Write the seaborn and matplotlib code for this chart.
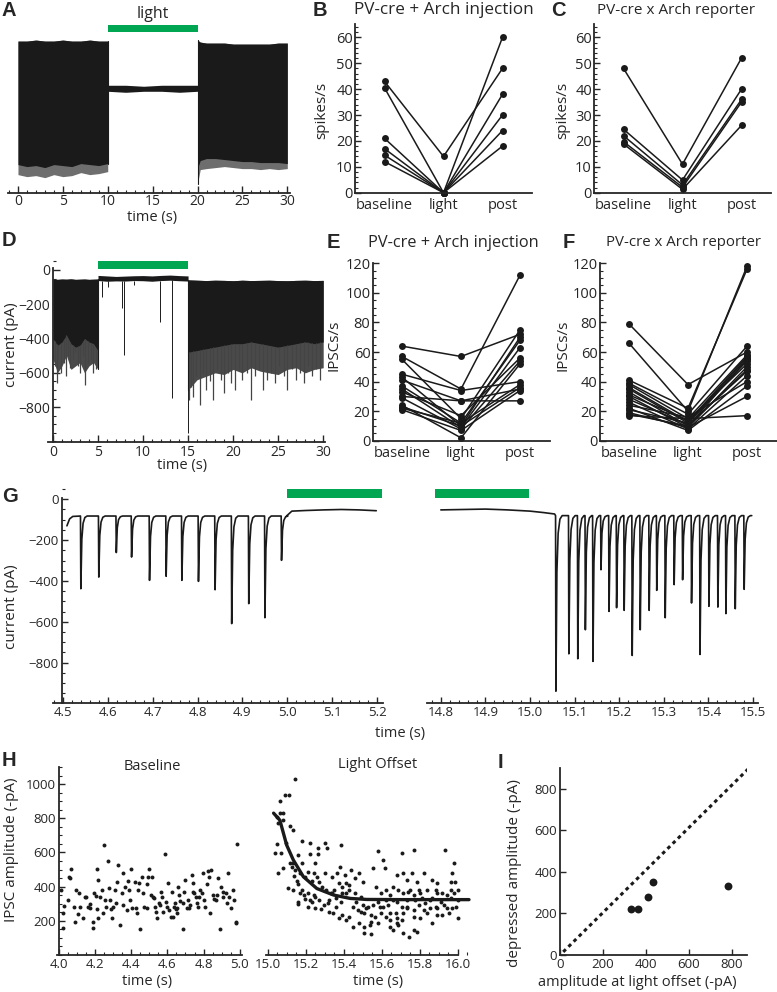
import numpy as np
import pandas as pd
import matplotlib
matplotlib.use('Agg')
import matplotlib.pyplot as plt
import seaborn as sns
from matplotlib.ticker import MultipleLocator

sns.set_theme(style='ticks')
plt.rcParams['font.family'] = ['Open Sans', 'DejaVu Sans']
plt.rcParams['xtick.direction'] = 'in'
plt.rcParams['ytick.direction'] = 'in'
plt.rcParams['axes.linewidth'] = 1.3
plt.rcParams['xtick.major.width'] = 1.0
plt.rcParams['ytick.major.width'] = 1.0
plt.rcParams['xtick.minor.width'] = 0.8
plt.rcParams['ytick.minor.width'] = 0.8

GREEN = '#00a651'

# ---------------- data ----------------
# A: firing trace envelope (arbitrary units, no y axis)
a_pre_t = [0, 1, 2, 3, 4, 5, 6, 7, 8, 9, 10]
a_pre_top = [47, 47, 48, 47, 47, 48, 47, 47, 48, 47, 47]
a_pre_core = [-76, -78, -77, -79, -76, -77, -78, -75, -76, -77, -75]
a_pre_tip = [-86, -88, -87, -89, -86, -88, -87, -84, -86, -85, -83]
a_light_t = [10, 12, 14, 16, 18, 20]
a_light_top = [3, 3, 2, 3, 3, 3]
a_light_bot = [-3, -4, -3, -3, -4, -3]
a_post_t = [20, 20.3, 21, 22, 23, 24, 25, 26, 27, 28, 29, 30]
a_post_top = [48, 46, 45, 45, 45, 44, 44, 44, 44, 44, 45, 45]
a_post_core = [-80, -72, -70, -70, -71, -72, -73, -73, -74, -74, -74, -75]
a_post_tip = [-95, -81, -80, -79, -78, -79, -80, -80, -81, -80, -81, -80]

# B, C: spikes/s
b_base = [43, 40.5, 21, 17, 14.5, 12]
b_light = [14, 0, 0, 0, 0, 0]
b_post = [48, 60, 38, 30, 24, 18]
c_base = [48, 24.5, 22, 19.7, 18.8]
c_light = [11, 4.9, 3, 2.1, 1.3]
c_post = [52, 40, 36, 35, 26]

# D: IPSC trace envelope (pA)
d_pre_t = [0, 0.5, 1, 1.5, 2, 2.5, 3, 3.5, 4, 4.5, 5]
d_pre_top = [-52, -55, -53, -54, -52, -55, -54, -53, -55, -54, -53]
d_pre_core = [-400, -440, -420, -380, -430, -450, -440, -400, -420, -430, -470]
d_pre_tip = [-520, -600, -560, -500, -580, -560, -540, -600, -560, -540, -580]
d_pre_spk_t = [0.2, 0.4, 0.6, 0.9, 1.2, 1.5, 1.7, 1.9, 2.2, 2.5, 2.8, 3.0, 3.3, 3.6, 3.9, 4.2, 4.5, 4.8]
d_pre_spk_a = [-560, -660, -520, -600, -540, -620, -500, -570, -520, -480, -560, -600, -500, -670, -540, -520, -600, -580]
d_light_t = [5, 6, 7, 8, 9, 10, 11, 12, 13, 14, 15]
d_light_top = [-32, -35, -38, -36, -34, -33, -35, -32, -30, -33, -35]
d_light_bot = [-62, -66, -64, -65, -62, -63, -66, -62, -60, -63, -65]
d_light_spk_t = [5.4, 6.1, 7.7, 7.9, 9.0, 11.9, 13.2, 14.95]
d_light_spk_a = [-160, -100, -224, -497, -90, -303, -745, -950]
d_post_t = [15, 16, 17, 18, 19, 20, 21, 22, 23, 24, 25, 26, 27, 28, 29, 30]
d_post_top = [-58, -60, -62, -60, -61, -63, -60, -62, -61, -60, -62, -63, -61, -60, -62, -61]
d_post_core = [-480, -470, -460, -450, -440, -430, -430, -420, -430, -440, -450, -440, -430, -420, -430, -420]
d_post_tip = [-700, -640, -620, -600, -610, -580, -600, -570, -590, -600, -610, -580, -570, -600, -580, -570]
d_post_spk_t = [15.1, 15.3, 15.6, 15.9, 16.3, 16.7, 17.0, 17.4, 17.8, 18.2, 18.6, 19.0, 19.4, 19.8, 20.2,
                20.6, 21.0, 21.5, 22.0, 22.4, 22.9, 23.3, 23.8, 24.2, 24.7, 25.1, 25.6, 26.0, 26.5,
                27.0, 27.4, 27.9, 28.3, 28.8, 29.2, 29.7]
d_post_spk_a = [-760, -680, -740, -620, -790, -600, -700, -650, -760, -580, -640, -720, -600, -660, -700,
                -580, -640, -600, -760, -620, -580, -700, -640, -600, -660, -560, -620, -700, -580,
                -640, -600, -660, -560, -620, -580, -640]

# E, F: IPSCs/s
e_base = [64, 57, 55, 45, 43, 41, 37, 35, 33, 30, 29, 24, 23, 22, 21]
e_light = [57, 35, 15, 34, 10, 27, 12, 9, 17, 27, 8, 2, 10, 12, 7]
e_post = [72, 112, 75, 40, 70, 35, 68, 63, 56, 27, 54, 52, 36, 38, 34]
f_base = [79, 66, 41, 39, 38, 36, 35, 33, 31, 30, 28, 26, 24, 22, 21, 19, 18, 17]
f_light = [38, 20, 22, 18, 15, 13, 12, 10, 14, 9, 11, 8, 16, 7, 12, 9, 10, 15]
f_post = [60, 118, 116, 64, 58, 57, 56, 55, 52, 50, 47, 44, 40, 37, 54, 30, 48, 17]

# G: individual IPSCs (time s, peak pA)
g_left_ev_t = [4.540, 4.580, 4.619, 4.653, 4.693, 4.730, 4.765, 4.802, 4.839, 4.876, 4.914, 4.950, 4.987]
g_left_ev_a = [-438, -381, -261, -283, -397, -377, -397, -402, -443, -609, -511, -580, -299]
g_left_base = -82
g_light1_t = [5.01, 5.04, 5.08, 5.12, 5.16, 5.198]
g_light1_v = [-58, -55, -52, -50, -52, -56]
g_light2_t = [14.80, 14.85, 14.90, 14.95, 15.00, 15.03, 15.055]
g_light2_v = [-52, -50, -48, -52, -58, -65, -72]
g_right_ev_t = [15.058, 15.087, 15.107, 15.124, 15.141, 15.159, 15.177, 15.194, 15.211, 15.229, 15.247, 15.267,
                15.284, 15.303, 15.323, 15.342, 15.362, 15.381, 15.401, 15.421, 15.439, 15.460, 15.480]
g_right_ev_a = [-940, -757, -781, -639, -794, -345, -549, -531, -544, -765, -639, -544,
                -446, -580, -418, -394, -508, -760, -524, -528, -560, -536, -441]
g_right_base = -80

# H: IPSC amplitudes
h_base_t = [4.015, 4.028, 4.022, 4.024, 4.055, 4.059, 4.064, 4.070, 4.083, 4.092, 4.097, 4.105, 4.112, 4.119,
            4.134, 4.147, 4.152, 4.160, 4.171, 4.174, 4.189, 4.191, 4.198, 4.211, 4.207, 4.217, 4.211, 4.220,
            4.226, 4.239, 4.248, 4.253, 4.257, 4.262, 4.275, 4.281, 4.284, 4.290, 4.294, 4.303, 4.312, 4.317,
            4.325, 4.330, 4.339, 4.349, 4.354, 4.358, 4.367, 4.376, 4.385, 4.389, 4.394, 4.400, 4.404, 4.422,
            4.428, 4.431, 4.440, 4.446, 4.450, 4.459, 4.464, 4.473, 4.486, 4.490, 4.495, 4.501, 4.508, 4.514,
            4.523, 4.527, 4.532, 4.538, 4.545, 4.556, 4.560, 4.565, 4.571, 4.578, 4.587, 4.591, 4.596, 4.606,
            4.611, 4.618, 4.624, 4.629, 4.637, 4.642, 4.646, 4.651, 4.655, 4.661, 4.664, 4.670, 4.684, 4.688,
            4.694, 4.697, 4.706, 4.716, 4.721, 4.725, 4.734, 4.739, 4.743, 4.749, 4.758, 4.765, 4.771, 4.776,
            4.780, 4.789, 4.798, 4.802, 4.807, 4.817, 4.826, 4.831, 4.835, 4.839, 4.853, 4.857, 4.868, 4.875,
            4.881, 4.890, 4.895, 4.905, 4.908, 4.923, 4.930, 4.936, 4.941, 4.950, 4.963, 4.969, 4.976, 4.978,
            4.985]
h_base_a = [380, 287, 248, 156, 322, 458, 449, 501, 283, 191, 380, 240, 361, 279,
            218, 341, 341, 283, 296, 273, 195, 156, 361, 269, 345, 439, 501, 218,
            337, 380, 244, 644, 322, 283, 552, 394, 322, 267, 215, 279, 380, 302,
            425, 527, 176, 361, 293, 478, 400, 263, 435, 380, 322, 501, 273, 429,
            273, 244, 380, 423, 150, 458, 361, 283, 273, 415, 458, 501, 351, 458,
            341, 332, 283, 254, 215, 302, 293, 371, 341, 254, 591, 312, 283, 419,
            263, 220, 371, 220, 283, 302, 267, 273, 244, 400, 351, 318, 150, 302,
            371, 439, 273, 322, 273, 293, 468, 371, 423, 361, 337, 302, 279, 341,
            380, 361, 478, 322, 279, 415, 493, 454, 244, 497, 351, 326, 322, 351,
            449, 150, 400, 367, 341, 361, 302, 482, 337, 273, 380, 322, 195, 185,
            647]
h_off_t = [15.143, 15.089, 15.111, 15.063, 15.063, 15.077, 15.050, 15.080, 15.054, 15.116, 15.134, 15.050, 15.098,
           15.179, 15.161, 15.116, 15.134, 15.080, 15.054, 15.139, 15.152, 15.161, 15.182, 15.223, 15.263, 15.300,
           15.313, 15.384, 15.220, 15.264, 15.250, 15.211, 15.241, 15.259, 15.196, 15.232, 15.268, 15.286, 15.307,
           15.339, 15.179, 15.214, 15.250, 15.161, 15.157, 15.196, 15.232, 15.211, 15.250, 15.282, 15.318, 15.357,
           15.384, 15.300, 15.339, 15.366, 15.379, 15.330, 15.361, 15.393, 15.345, 15.393, 15.429, 15.411, 15.429,
           15.461, 15.464, 15.491, 15.500, 15.438, 15.461, 15.482, 15.500, 15.407, 15.411, 15.509, 15.518, 15.545,
           15.539, 15.563, 15.580, 15.509, 15.545, 15.554, 15.580, 15.607, 15.616, 15.571, 15.598, 15.625, 15.643,
           15.580, 15.607, 15.634, 15.661, 15.621, 15.643, 15.675, 15.705, 15.732, 15.661, 15.688, 15.714, 15.746,
           15.768, 15.786, 15.705, 15.771, 15.934, 15.679, 15.711, 15.732, 15.759, 15.786, 15.821, 15.661, 15.688,
           15.714, 15.741, 15.768, 15.795, 15.813, 15.830, 15.857, 15.821, 15.857, 15.866, 15.884, 15.893, 15.920,
           15.911, 15.929, 15.946, 15.920, 15.964, 15.973, 15.979, 15.964, 15.986, 16.000, 16.004, 16.000, 15.893,
           15.866, 15.795, 15.768, 15.732, 15.036, 15.071, 15.125, 15.143, 15.170, 15.107, 15.134, 15.170, 15.188,
           15.223, 15.241, 15.268, 15.296, 15.321, 15.348, 15.375, 15.393, 15.429, 15.446, 15.473, 15.491, 15.527,
           15.554, 15.589, 15.625, 15.679, 15.705, 15.732, 15.750, 15.777, 15.804, 15.839, 15.866, 15.884, 15.893,
           15.946, 15.964, 15.982, 15.991, 15.973, 15.955, 15.893, 15.839, 15.804, 15.768, 15.714, 15.679, 15.643,
           15.598, 15.482, 15.446, 15.411, 15.375, 15.321, 15.643, 15.679, 15.545, 15.509]
h_off_a = [1030, 936, 936, 901, 829, 833, 809, 790, 770, 757, 731, 647, 657,
           667, 585, 536, 536, 507, 478, 462, 435, 415, 536, 657, 624, 657,
           624, 644, 589, 589, 536, 488, 478, 458, 454, 435, 429, 400, 380,
           361, 380, 361, 337, 312, 296, 326, 312, 279, 273, 267, 302, 283,
           312, 478, 458, 478, 517, 361, 335, 361, 244, 234, 224, 361, 410,
           361, 312, 341, 293, 497, 449, 478, 429, 468, 419, 244, 273, 234,
           176, 224, 185, 127, 123, 507, 610, 556, 507, 400, 361, 380, 351,
           312, 283, 293, 322, 224, 205, 244, 205, 273, 146, 176, 131, 107,
           146, 137, 595, 614, 614, 468, 478, 439, 478, 429, 478, 400, 380,
           361, 371, 351, 380, 332, 302, 322, 263, 273, 439, 380, 419, 361,
           312, 293, 273, 234, 332, 478, 536, 429, 429, 380, 322, 215, 234,
           185, 293, 263, 283, 595, 595, 517, 497, 478, 394, 380, 361, 351,
           322, 351, 322, 293, 322, 380, 419, 400, 380, 283, 263, 254, 283,
           293, 283, 322, 312, 283, 322, 380, 322, 361, 380, 332, 283, 361,
           351, 380, 361, 283, 273, 244, 273, 244, 215, 224, 244, 215, 244,
           244, 185, 166, 205, 215, 254, 166, 185, 195, 166]
# exponential fit
h_fit_t = [15.030, 15.063, 15.099, 15.134, 15.187, 15.258, 15.346, 15.434, 15.522, 15.700, 15.900, 16.060]
h_fit_a = [830, 789, 643, 556, 458, 389, 351, 331, 325, 324, 324, 324]

# I: depressed vs offset amplitude
i_offset = [330, 361, 411, 434, 780]
i_depressed = [220, 220, 278, 353, 334]

# ---------------- figure ----------------
W, H = 777, 992
fig = plt.figure(figsize=(W / 100, H / 100), dpi=100)


def px_axes(l, t, r, b):
    return fig.add_axes([l / W, 1 - b / H, (r - l) / W, (b - t) / H])


def ftext(x, y, s, **kw):
    fig.text(x / W, 1 - y / H, s, **kw)


def letter(x, y, s):
    ftext(x, y, s, fontsize=14.5, fontweight='bold', family='Liberation Sans', va='center', ha='left')


def clean(ax, left=True):
    ax.set_facecolor('none')
    ax.spines['top'].set_visible(False)
    ax.spines['right'].set_visible(False)
    if not left:
        ax.spines['left'].set_visible(False)
        ax.tick_params(axis='y', left=False, labelleft=False)


# ---- A ----
axA = px_axes(8, 20, 290, 192.7)
clean(axA, left=False)
axA.fill_between(a_pre_t, a_pre_tip, a_pre_top, color='#6e6e6e', lw=0)
axA.fill_between(a_pre_t, a_pre_core, a_pre_top, color='k', lw=0)
axA.fill_between(a_light_t, a_light_bot, a_light_top, color='k', lw=0)
axA.fill_between(a_post_t, a_post_tip, a_post_top, color='#6e6e6e', lw=0)
axA.fill_between(a_post_t, a_post_core, a_post_top, color='k', lw=0)
axA.plot([10, 10], [a_pre_core[-1], a_pre_top[-1]], color='k', lw=0.8)
axA.plot([20, 20], [a_post_tip[0], a_post_top[0]], color='k', lw=0.8)
axA.set_xlim(-1.11, 30.3)
axA.set_ylim(-104, 68)
axA.add_patch(plt.Rectangle((10, 56), 10, 7, color=GREEN, lw=0, clip_on=False))
axA.text(15, 74, 'light', ha='center', va='center', fontsize=11.5)
axA.xaxis.set_major_locator(MultipleLocator(5))
axA.xaxis.set_minor_locator(MultipleLocator(1))
axA.tick_params(axis='x', which='major', length=5, labelsize=10, pad=1)
axA.tick_params(axis='x', which='minor', length=2.5)
axA.set_xlabel('')
ftext(152, 217, 'time (s)', ha='center', va='center', fontsize=10.5)


# ---- paired plots ----
def paired(box, base, light, post, ymax, major, minor, ylabel, ylab_x, ylab_y):
    ax = px_axes(*box)
    clean(ax)
    n = len(base)
    df = pd.DataFrame({
        'cell': list(range(n)) * 3,
        'cond': ['baseline'] * n + ['light'] * n + ['post'] * n,
        'rate': list(base) + list(light) + list(post),
    })
    sns.lineplot(data=df, x='cond', y='rate', units='cell', estimator=None, sort=False,
                 color='k', lw=1.1, marker='o', markersize=5, markeredgewidth=0, ax=ax,
                 clip_on=False)
    ax.set_xlim(-0.5, 2.5)
    ax.set_ylim(0, ymax)
    ax.yaxis.set_major_locator(MultipleLocator(major))
    ax.yaxis.set_minor_locator(MultipleLocator(minor))
    ax.tick_params(axis='y', which='major', length=4, labelsize=10.5, pad=1.5)
    ax.tick_params(axis='y', which='minor', length=2)
    ax.tick_params(axis='x', length=0, labelsize=10.5, pad=4)
    ax.set_xlabel('')
    ax.set_ylabel('')
    ftext(ylab_x, ylab_y, ylabel, rotation=90, ha='center', va='center', fontsize=11)
    return ax


paired((355, 24.4, 532, 192.7), b_base, b_light, b_post, 65, 10, 2, 'spikes/s', 322, 110)
paired((594, 24.4, 771, 192.7), c_base, c_light, c_post, 65, 10, 2, 'spikes/s', 563, 110)
paired((372.5, 263.3, 549.5, 440.8), e_base, e_light, e_post, 120, 20, 5, 'IPSCs/s', 334, 345)
paired((599.5, 263.3, 776.5, 440.8), f_base, f_light, f_post, 120, 20, 5, 'IPSCs/s', 563, 345)
ftext(444, 10, 'PV-cre + Arch injection', ha='center', va='center', fontsize=12.3)
ftext(676, 10, 'PV-cre x Arch reporter', ha='center', va='center', fontsize=11)
ftext(453, 243, 'PV-cre + Arch injection', ha='center', va='center', fontsize=11.8)
ftext(683, 243, 'PV-cre x Arch reporter', ha='center', va='center', fontsize=10.8)

# ---- D ----
axD = px_axes(48, 255, 325, 442)
clean(axD)
axD.fill_between(d_pre_t, d_pre_tip, d_pre_top, color='#4a4a4a', lw=0)
axD.fill_between(d_pre_t, d_pre_core, d_pre_top, color='k', lw=0)
axD.vlines(d_pre_spk_t, np.interp(d_pre_spk_t, d_pre_t, d_pre_core), d_pre_spk_a, color='#444444', lw=0.9)
axD.fill_between(d_light_t, d_light_bot, d_light_top, color='k', lw=0)
axD.vlines(d_light_spk_t, np.interp(d_light_spk_t, d_light_t, d_light_bot), d_light_spk_a, color='k', lw=0.7)
axD.fill_between(d_post_t, d_post_tip, d_post_top, color='#4a4a4a', lw=0)
axD.fill_between(d_post_t, d_post_core, d_post_top, color='k', lw=0)
axD.vlines(d_post_spk_t, np.interp(d_post_spk_t, d_post_t, d_post_core), d_post_spk_a, color='#444444', lw=0.9)
axD.plot([5, 5], [d_pre_tip[-1], d_pre_top[-1]], color='k', lw=0.8)
axD.plot([15, 15], [d_post_tip[0], d_post_top[0]], color='k', lw=0.8)
axD.set_xlim(-0.55, 30.2)
axD.set_ylim(-1003, 87)
axD.spines['left'].set_position(('data', 0))
axD.spines['left'].set_bounds(-1003, 10)
axD.add_patch(plt.Rectangle((5, 6), 10, 48, color=GREEN, lw=0, clip_on=False))
axD.xaxis.set_major_locator(MultipleLocator(5))
axD.xaxis.set_minor_locator(MultipleLocator(1))
axD.set_yticks([0, -200, -400, -600, -800])
axD.yaxis.set_minor_locator(MultipleLocator(50))
axD.tick_params(which='major', length=5, labelsize=10, pad=2)
axD.tick_params(which='minor', length=2.5)
ftext(182, 466, 'time (s)', ha='center', va='center', fontsize=10.5)
ftext(12, 345, 'current (pA)', rotation=90, ha='center', va='center', fontsize=11)


# ---- G ----
def ipsc_trace(t0, v0, base, ev_t, ev_a, t_end):
    xs, ys = list(t0), list(v0)
    for t, a in zip(ev_t, ev_a):
        d = a - base
        xs += [t - 0.0008, t, t + 0.0022, t + 0.005, t + 0.009, t + 0.014]
        ys += [base, a, base + 0.32 * d, base + 0.1 * d, base + 0.02 * d, base]
    xs.append(t_end)
    ys.append(base)
    return xs, ys


axG1 = px_axes(53, 485, 383, 703)
clean(axG1)
gx, gy = ipsc_trace([4.509, 4.515, 4.522], [-130, -96, -84], g_left_base, g_left_ev_t, g_left_ev_a, 4.998)
axG1.plot(gx + g_light1_t, gy + g_light1_v, color='k', lw=1.2)
axG1.set_xlim(4.478, 5.213)
axG1.set_ylim(-998, 70)
axG1.spines['left'].set_position(('data', 4.497))
axG1.spines['left'].set_bounds(-998, 5)
axG1.add_patch(plt.Rectangle((5.0, 5), 0.21, 44, color=GREEN, lw=0, clip_on=False))
axG1.set_xticks([4.5, 4.6, 4.7, 4.8, 4.9, 5.0, 5.1, 5.2])
axG1.xaxis.set_minor_locator(MultipleLocator(0.02))
axG1.set_yticks([0, -200, -400, -600, -800])
axG1.yaxis.set_minor_locator(MultipleLocator(50))
axG1.tick_params(which='major', length=4.5, labelsize=9.5, pad=2)
axG1.tick_params(which='minor', length=2.5)

axG2 = px_axes(427, 485, 758, 703)
clean(axG2, left=False)
gx2, gy2 = ipsc_trace(g_light2_t, g_light2_v, g_right_base, g_right_ev_t, g_right_ev_a, 15.497)
axG2.plot(gx2, gy2, color='k', lw=1.2)
axG2.set_xlim(14.769, 15.511)
axG2.set_ylim(-998, 70)
axG2.add_patch(plt.Rectangle((14.787, 5), 0.211, 44, color=GREEN, lw=0, clip_on=False))
axG2.set_xticks([14.8, 14.9, 15.0, 15.1, 15.2, 15.3, 15.4, 15.5])
axG2.xaxis.set_minor_locator(MultipleLocator(0.02))
axG2.tick_params(which='major', length=4.5, labelsize=9.5, pad=2)
axG2.tick_params(which='minor', length=2.5)
ftext(400, 733, 'time (s)', ha='center', va='center', fontsize=10.5)
ftext(12, 607, 'current (pA)', rotation=90, ha='center', va='center', fontsize=11)

# ---- H ----
axH1 = px_axes(56.7, 767, 241.7, 955)
clean(axH1)
sns.scatterplot(x=h_base_t, y=h_base_a, color='k', s=8, linewidth=0, ax=axH1)
axH1.set_xlim(3.99, 5.01)
axH1.set_ylim(0, 1100)
axH1.spines['left'].set_position(('data', 4.0))
axH1.set_xticks([4.0, 4.2, 4.4, 4.6, 4.8, 5.0])
axH1.xaxis.set_minor_locator(MultipleLocator(0.05))
axH1.set_yticks([200, 400, 600, 800, 1000])
axH1.yaxis.set_minor_locator(MultipleLocator(50))
axH1.tick_params(which='major', length=4, labelsize=9.5, pad=2)
axH1.tick_params(which='minor', length=2)
ftext(152, 766, 'Baseline', ha='center', va='center', fontsize=10.5)
ftext(147, 982, 'time (s)', ha='center', va='center', fontsize=10.5)
ftext(12, 850, 'IPSC amplitude (-pA)', rotation=90, ha='center', va='center', fontsize=11)

axH2 = px_axes(266, 767, 469, 955)
clean(axH2, left=False)
sns.scatterplot(x=h_off_t, y=h_off_a, color='k', s=8, linewidth=0, ax=axH2, clip_on=False)
sns.lineplot(x=h_fit_t, y=h_fit_a, color='k', lw=2.4, ax=axH2, clip_on=False)
axH2.set_xlim(14.99, 16.06)
axH2.set_ylim(0, 1100)
axH2.spines['bottom'].set_bounds(14.99, 16.0)
axH2.set_xticks([15.0, 15.2, 15.4, 15.6, 15.8, 16.0])
axH2.xaxis.set_minor_locator(MultipleLocator(0.05))
axH2.tick_params(which='major', length=4, labelsize=9.5, pad=2)
axH2.tick_params(which='minor', length=2)
ftext(378, 765, 'Light Offset', ha='center', va='center', fontsize=10.5)
ftext(378, 982, 'time (s)', ha='center', va='center', fontsize=10.5)

# ---- I ----
axI = px_axes(560, 768, 747, 955)
clean(axI)
axI.plot([15, 880], [15, 900], color='k', lw=2.2, ls=(0, (1.2, 1.2)))
sns.scatterplot(x=i_offset, y=i_depressed, color='k', s=32, linewidth=0, ax=axI, zorder=3)
axI.set_xlim(0, 870)
axI.set_ylim(0, 900)
axI.set_xticks([0, 200, 400, 600, 800])
axI.set_yticks([0, 200, 400, 600, 800])
axI.tick_params(length=4, labelsize=9.5, pad=2)
ftext(637, 983, 'amplitude at light offset (-pA)', ha='center', va='center', fontsize=10.5)
ftext(515, 873, 'depressed amplitude (-pA)', rotation=90, ha='center', va='center', fontsize=11)

# ---- panel letters ----
letter(2, 11, 'A')
letter(313, 11, 'B')
letter(551, 11, 'C')
letter(2, 241, 'D')
letter(327, 242, 'E')
letter(563, 242, 'F')
letter(2, 497, 'G')
letter(2, 761, 'H')
letter(498, 762, 'I')

fig.savefig('out.png', dpi=100)
